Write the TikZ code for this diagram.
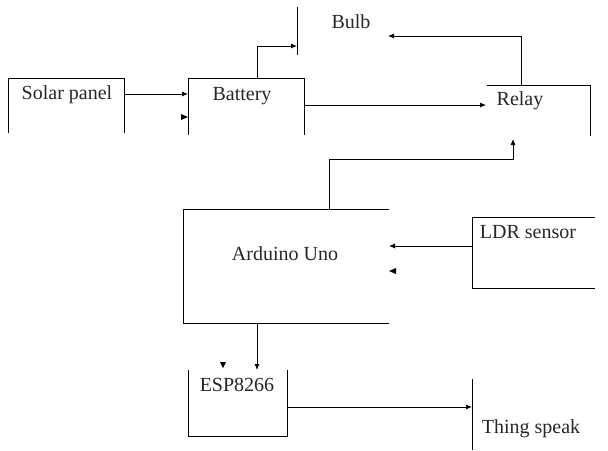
\documentclass[tikz,border=0pt]{standalone}
\usepackage{fontspec}
\setmainfont{Liberation Serif}
\usetikzlibrary{arrows.meta}
\begin{document}
\begin{tikzpicture}[x=1pt,y=-1pt,
  wire/.style={line width=0.9pt,black},
  conn/.style={wire,-{Latex[length=6pt,width=5pt]}},
  lbl/.style={font=\fontsize{20}{22}\selectfont,text=black!85,inner sep=0pt},
  tip/.style={fill=black}]
\useasboundingbox (0,0) rectangle (608,450);
% Solar panel (open bottom)
\coordinate (sp1) at (8,133); \coordinate (sp2) at (8,78);
\coordinate (sp3) at (124,78); \coordinate (sp4) at (124,133);
\draw[wire] (sp1) -- (sp2) -- (sp3) -- (sp4);
\node[lbl] (solar) at (67,95) {Solar panel};
% Battery (open bottom)
\coordinate (ba1) at (188,135); \coordinate (ba2) at (188,78);
\coordinate (ba3) at (304,78); \coordinate (ba4) at (304,135);
\draw[wire] (ba1) -- (ba2) -- (ba3) -- (ba4);
\node[lbl] (battery) at (242,96) {Battery};
% Bulb
\coordinate (bu1) at (297,7); \coordinate (bu2) at (297,55);
\draw[wire] (bu1) -- (bu2);
\node[lbl] (bulb) at (351,22) {Bulb};
% Relay (top and right)
\coordinate (re1) at (487,85); \coordinate (re2) at (590,85);
\coordinate (re3) at (590,136);
\draw[wire] (re1) -- (re2) -- (re3);
\node[lbl] (relay) at (520,101) {Relay};
% Arduino (open right)
\coordinate (ar1) at (389,209); \coordinate (ar2) at (183,209);
\coordinate (ar3) at (183,323); \coordinate (ar4) at (389,323);
\draw[wire] (ar1) -- (ar2) -- (ar3) -- (ar4);
\node[lbl] (arduino) at (285,254) {Arduino Uno};
% LDR (open right)
\coordinate (ld1) at (595,217); \coordinate (ld2) at (472,217);
\coordinate (ld3) at (472,288); \coordinate (ld4) at (595,288);
\draw[wire] (ld1) -- (ld2) -- (ld3) -- (ld4);
\node[lbl] (ldr) at (528,232) {LDR sensor};
% ESP8266 (open top)
\coordinate (es1) at (188,370); \coordinate (es2) at (188,436);
\coordinate (es3) at (287,436); \coordinate (es4) at (287,370);
\draw[wire] (es1) -- (es2) -- (es3) -- (es4);
\node[lbl] (esp) at (237,385) {ESP8266};
% Thing speak
\coordinate (ts1) at (472,379); \coordinate (ts2) at (472,450);
\draw[wire] (ts1) -- (ts2);
\node[lbl] (thing) at (531,429) {Thing speak};
% connectors
\coordinate (c1) at (124,94); \coordinate (c2) at (188,94);
\draw[conn] (c1) -- (c2);
\coordinate (c3) at (257,78); \coordinate (c4) at (297,46);
\draw[conn] (c3) |- (c4);
\coordinate (c5) at (304,105); \coordinate (c6) at (486,105);
\draw[conn] (c5) -- (c6);
\coordinate (c7) at (521,85); \coordinate (c8) at (388,36);
\draw[conn] (c7) |- (c8);
\coordinate (c9) at (329,209); \coordinate (c10) at (513,159); \coordinate (c11) at (513,139);
\draw[conn] (c9) |- (c10) -- (c11);
\coordinate (c12) at (472,246); \coordinate (c13) at (389,246);
\draw[conn] (c12) -- (c13);
\coordinate (c14) at (257,323); \coordinate (c15) at (257,370);
\draw[conn] (c14) -- (c15);
\coordinate (c16) at (287,407); \coordinate (c17) at (472,407);
\draw[conn] (c16) -- (c17);
% stray arrowheads
\fill[tip] (181,114) -- (188,117) -- (181,120) -- cycle;
\fill[tip] (396,268) -- (389,271) -- (396,274) -- cycle;
\fill[tip] (220,362) -- (223,368) -- (226,362) -- cycle;
\end{tikzpicture}
\end{document}
